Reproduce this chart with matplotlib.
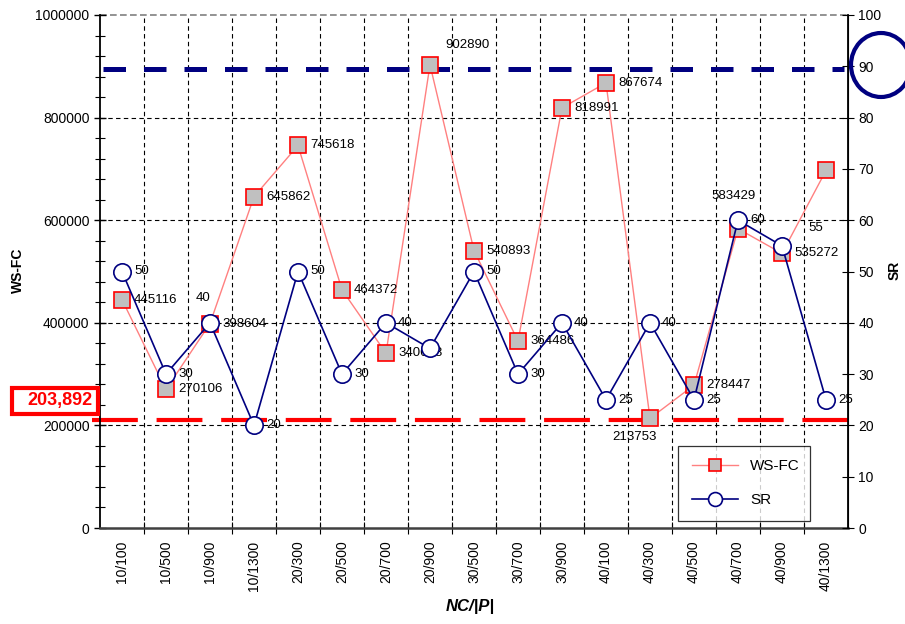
import matplotlib
matplotlib.use("Agg")
import numpy as np
import matplotlib.pyplot as plt
from matplotlib.patches import Rectangle, Ellipse
from matplotlib.ticker import MultipleLocator

plt.rcParams["font.family"] = ["Liberation Sans", "DejaVu Sans"]

categories = ["10/100", "10/500", "10/900", "10/1300", "20/300", "20/500", "20/700",
              "20/900", "30/500", "30/700", "30/900", "40/100", "40/300", "40/500",
              "40/700", "40/900", "40/1300"]
ws_fc = [445116, 270106, 398604, 645862, 745618, 464372, 340648, 902890, 540893,
         364486, 818991, 867674, 213753, 278447, 583429, 535272, 697000]
sr = [50, 30, 40, 20, 50, 30, 40, 35, 50, 30, 40, 25, 40, 25, 60, 55, 25]

# label offsets in pixels (dx, dy, ha); None = no label
ws_label_pos = [(12, 0, "left")] * 17
ws_label_pos = list(ws_label_pos)
ws_label_pos[7] = (15, 20, "left")
ws_label_pos[12] = (-16, -19, "center")
ws_label_pos[14] = (-4, 33, "center")
ws_label_pos[16] = None
sr_label_pos = [(12, 0, "left")] * 17
sr_label_pos = list(sr_label_pos)
sr_label_pos[2] = (-7, 25, "center")
sr_label_pos[7] = None
sr_label_pos[15] = (26, 18, "left")

best_ws = 203892
best_sr = 90

fig = plt.figure(figsize=(9.05, 6.24), dpi=100)
ax = fig.add_axes([100 / 905, 96 / 624, 748 / 905, 513 / 624])
ax2 = ax.twinx()

x = np.arange(len(categories))

ax.set_xlim(-0.5, len(categories) - 0.5)
ax.set_ylim(0, 1000000)
ax2.set_ylim(0, 100)

# grid
for b in np.arange(0.5, len(categories) - 0.5, 1):
    ax.axvline(b, color="black", lw=0.8, ls=(0, (4, 3)), zorder=0)
for v in [200000, 400000, 600000, 800000]:
    ax.axhline(v, color="black", lw=0.8, ls=(0, (4, 3)), zorder=0)
ax.axhline(1000000, color="#808080", lw=1.2, ls=(0, (4, 2)), zorder=0, clip_on=False)

ax.spines["top"].set_visible(False)
ax2.spines["top"].set_visible(False)
ax.spines["bottom"].set_color("#404040")
ax.spines["bottom"].set_linewidth(1.8)
ax2.spines["bottom"].set_visible(False)
ax.spines["left"].set_linewidth(1.3)
ax2.spines["right"].set_linewidth(1.3)
ax2.spines["left"].set_visible(False)

# reference lines (SR 90 drawn on the left scale so markers sit on top)
ax.plot([0.004, 0.995], [best_sr * 10000 - 5000, best_sr * 10000 - 5000],
        transform=ax.get_yaxis_transform(),
        color="#000080", lw=3.6, ls=(0, (4.5, 3.6)), clip_on=False, zorder=1)
ax.plot([-0.011, 1.009], [210000, 210000], transform=ax.get_yaxis_transform(),
        color="red", lw=3, ls=(0, (11, 4.5)), clip_on=False, zorder=1)

ax.plot(x, ws_fc, color="#ff8080", lw=1, marker="s", markersize=11.5,
        markerfacecolor="#c0c0c0", markeredgecolor="red", markeredgewidth=1.2,
        label="WS-FC", zorder=3)
ax2.plot(x, sr, color="#000080", lw=1.2, marker="o", markersize=12.5,
         markerfacecolor="white", markeredgecolor="#000080", markeredgewidth=1.2,
         label="SR", zorder=4)

for i, v in enumerate(ws_fc):
    p = ws_label_pos[i]
    if p is None:
        continue
    ax.annotate(str(v), (i, v), xytext=(p[0], p[1]), textcoords="offset pixels",
                ha=p[2], va="center", fontsize=9.5, zorder=5)
for i, v in enumerate(sr):
    p = sr_label_pos[i]
    if p is None:
        continue
    ax2.annotate(str(v), (i, v), xytext=(p[0], p[1]), textcoords="offset pixels",
                 ha=p[2], va="center", fontsize=9.5, zorder=6, annotation_clip=False)

# ticks
ax.set_xticks(np.arange(0.5, len(categories) - 0.5, 1))
ax.set_xticklabels([])
ax.set_xticks(x, minor=True)
ax.set_xticklabels(categories, minor=True, rotation=90, fontsize=10)
ax.tick_params(axis="x", which="major", direction="inout", length=8, width=0.8)
ax.tick_params(axis="x", which="minor", length=0, pad=9)

ax.yaxis.set_major_locator(MultipleLocator(200000))
ax.yaxis.set_minor_locator(MultipleLocator(40000))
ax.tick_params(axis="y", which="major", direction="inout", length=8, width=1, labelsize=10)
ax.tick_params(axis="y", which="minor", direction="inout", length=7, width=0.8)
ax.set_yticklabels([str(int(v)) for v in ax.get_yticks()])

ax2.yaxis.set_major_locator(MultipleLocator(10))
ax2.tick_params(axis="y", direction="inout", length=8, width=0.8, labelsize=10)

fig.text(18 / 905, 1 - 270 / 624, "WS-FC", rotation=90, fontsize=10, fontweight="bold",
         ha="center", va="center")
fig.text(895 / 905, 1 - 270 / 624, "SR", rotation=90, fontsize=10, fontweight="bold",
         ha="center", va="center")
fig.text(470 / 905, 1 - 607 / 624, "NC/|P|", fontsize=12, fontweight="bold",
         style="italic", ha="center", va="center")

# legend
h1, l1 = ax.get_legend_handles_labels()
h2, l2 = ax2.get_legend_handles_labels()
leg = ax2.legend(h1 + h2, l1 + l2, loc="lower left",
                 bbox_to_anchor=(0.773, 0.0136, 0.176, 0.144), mode="expand",
                 fontsize=11, frameon=True, fancybox=False, edgecolor="black",
                 handlelength=3, labelspacing=1.3, borderaxespad=0, borderpad=0.9,
                 markerscale=0.8)
leg.get_frame().set_linewidth(0.9)
leg.set_zorder(10)

# annotation box and circle
fig.patches.append(Rectangle((12 / 905, (624 - 414) / 624), 86 / 905, 26 / 624,
                             transform=fig.transFigure, fill=True, facecolor="white",
                             edgecolor="red", lw=3))
fig.text(92 / 905, 1 - 401 / 624, "203,892", color="red", fontsize=13,
         fontweight="bold", ha="right", va="center")
fig.patches.append(Ellipse((881 / 905, (624 - 65) / 624), 60 / 905, 64 / 624,
                           transform=fig.transFigure, fill=False,
                           edgecolor="#000080", lw=3))

fig.savefig("out.png", dpi=100)
